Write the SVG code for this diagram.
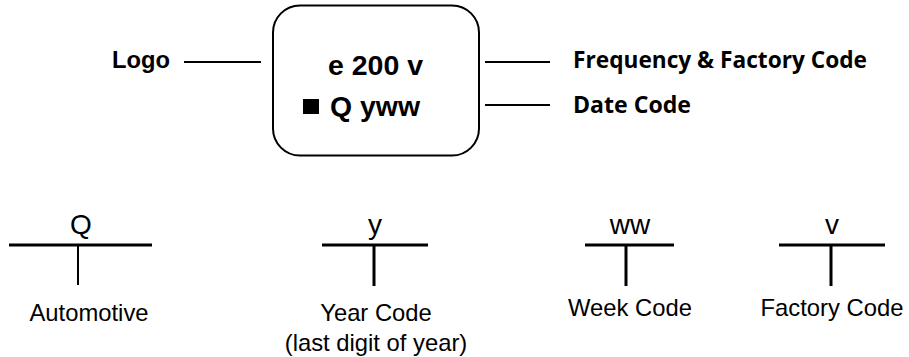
<svg xmlns="http://www.w3.org/2000/svg" width="909" height="357" viewBox="0 0 909 357">
<style>
text{font-family:"Liberation Sans",Arial,sans-serif;fill:#000}
.b{font-weight:700}
.big{font-size:28.4px;font-weight:700}
.c{font-family:"Open Sans","Noto Sans",sans-serif;font-weight:700;font-size:22.5px}
.r{font-size:28px;text-anchor:middle}
.l{font-size:23.8px;text-anchor:middle}
.ln{stroke:#000;fill:none}
</style>
<rect width="909" height="357" fill="#fff"/>
<g id="chip">
<rect class="ln" x="273" y="5.500" width="206" height="150" rx="27" ry="27" stroke-width="2"/>
<text class="big" x="328" y="75" textLength="95" lengthAdjust="spacingAndGlyphs">e 200 v</text>
<rect x="303" y="99" width="16" height="15" fill="#000"/>
<text class="big" x="330" y="115.500" textLength="90" lengthAdjust="spacingAndGlyphs">Q yww</text>
</g>
<g id="connectors">
<path class="ln" stroke-width="2" d="M184 62H261M485 62H550M485 105H550"/>
<path class="ln" stroke-width="3" d="M9 245H152M322 245H428M585 245H674M779 245H885"/>
<path class="ln" stroke-width="2" d="M78 245V285"/>
<path class="ln" stroke-width="3" d="M374 245V286M626 245V286M831 245V286"/>
</g>
<g id="logo-label"><text class="b" font-size="23.700" x="112" y="68" textLength="58" lengthAdjust="spacingAndGlyphs">Logo</text></g>
<g id="freq-label"><text class="c" x="573" y="67.500" textLength="294" lengthAdjust="spacingAndGlyphs">Frequency &amp; Factory Code</text></g>
<g id="date-label"><text class="c" x="573" y="112.500" textLength="118" lengthAdjust="spacingAndGlyphs">Date Code</text></g>
<g id="q"><text class="r" x="81" y="234">Q</text><text class="l" x="89" y="320.500">Automotive</text></g>
<g id="y"><text class="r" x="375" y="234">y</text><text class="l" x="376" y="320.500">Year Code</text><text class="l" x="376" y="350.500">(last digit of year)</text></g>
<g id="ww"><text class="r" x="630" y="234">ww</text><text class="l" x="630" y="315.500">Week Code</text></g>
<g id="v"><text class="r" x="832" y="234">v</text><text class="l" x="832" y="315.500">Factory Code</text></g>
</svg>
